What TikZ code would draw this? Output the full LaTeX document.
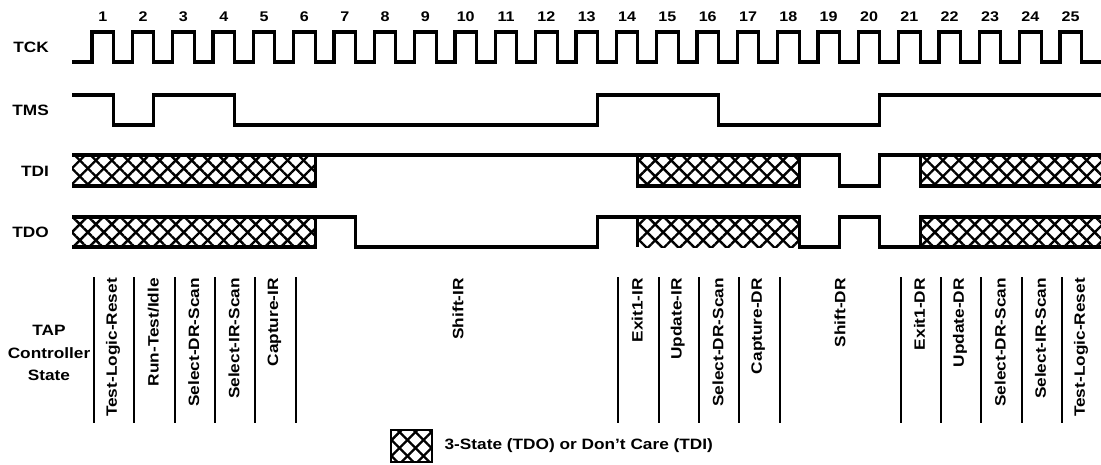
\documentclass[tikz,border=0pt]{standalone}
\usepackage{fontspec}
\setmainfont{Liberation Sans}[FakeStretch=1.15]
\usetikzlibrary{positioning,patterns.meta}

% clock edges (sheet is measured in pt, origin top left)
\newcommand{\riseat}[1]{92+40.33*(#1-1)}
\newcommand{\fallat}[1]{113.5+40.33*(#1-1)}

\tikzset{
  sig/.style={line width=3.2pt},
  hatch/.style={pattern={Lines[angle=45,distance=11.3pt,line width=2.4pt]},
    postaction={pattern={Lines[angle=-45,distance=11.3pt,line width=2.4pt]}}},
  lbl/.style={font=\fontsize{15}{18}\selectfont\bfseries, inner sep=0pt},
  num/.style={font=\fontsize{14}{16}\selectfont\bfseries, inner sep=0pt},
  state/.style={lbl, rotate=90, anchor=east},
  sep/.style={line width=1.8pt},
}

\begin{document}
\begin{tikzpicture}[x=1pt, y=-1pt]
    \useasboundingbox (0,0) rectangle (1101,464);

    % Draw signal names
    \node[lbl, anchor=east] (tck) at (49,47) {TCK};
    \node[lbl, anchor=east] (tms) at (49,110) {TMS};
    \node[lbl, anchor=east] (tdi) at (49,171) {TDI};
    \node[lbl, anchor=east] (tdo) at (49,232) {TDO};

    % Draw cycle numbers and TCK
    \foreach \n in {1,...,25}
        \node[num] (c\n) at ({102.75+40.33*(\n-1)},17) {\n};
    \draw[sig] (72,62) \foreach \n in {1,...,25} {
        -- ({\riseat{\n}},62) -- ({\riseat{\n}},32) -- ({\fallat{\n}},32) -- ({\fallat{\n}},62)
    } -- (1101,62);

    % Draw TMS
    \draw[sig] (72,95) -- ({\fallat{1}},95) -- ({\fallat{1}},125) -- ({\fallat{2}},125)
        -- ({\fallat{2}},95) -- ({\fallat{4}},95) -- ({\fallat{4}},125) -- ({\fallat{13}},125)
        -- ({\fallat{13}},95) -- ({\fallat{16}},95) -- ({\fallat{16}},125) -- ({\fallat{20}},125)
        -- ({\fallat{20}},95) -- (1101,95);

    % Draw TDI
    \fill[hatch] (72,155) rectangle ({\fallat{6}},186);
    \fill[hatch] ({\fallat{14}},155) rectangle ({\fallat{18}},186);
    \fill[hatch] ({\fallat{21}},155) rectangle (1101,186);
    \draw[sig] (72,155) -- ({\fallat{19}},155) -- ({\fallat{19}},186) -- ({\fallat{20}},186)
        -- ({\fallat{20}},155) -- (1101,155);
    \draw[sig] (72,186) -- ({\fallat{6}},186) -- ({\fallat{6}},155);
    \draw[sig] ({\fallat{14}},155) -- ({\fallat{14}},186) -- ({\fallat{18}},186) -- ({\fallat{18}},155);
    \draw[sig] (1101,186) -- ({\fallat{21}},186) -- ({\fallat{21}},155);

    % Draw TDO
    \fill[hatch] (72,217) rectangle ({\fallat{6}},247);
    \fill[hatch] ({\fallat{14}},217) rectangle ({\fallat{18}},247);
    \fill[hatch] ({\fallat{21}},217) rectangle (1101,247);
    \draw[sig] (72,217) -- ({\fallat{7}},217) -- ({\fallat{7}},247) -- ({\fallat{13}},247)
        -- ({\fallat{13}},217) -- ({\fallat{18}},217) -- ({\fallat{18}},247) -- ({\fallat{19}},247)
        -- ({\fallat{19}},217) -- ({\fallat{20}},217) -- ({\fallat{20}},247) -- (1101,247);
    \draw[sig] (72,247) -- ({\fallat{6}},247) -- ({\fallat{6}},217);
    \draw[sig] ({\fallat{14}},217) -- ({\fallat{14}},247);
    \draw[sig] ({\fallat{21}},247) -- ({\fallat{21}},217) -- (1101,217);

    % Draw TAP controller states
    \node[lbl, align=center, font=\fontsize{15}{22.5}\selectfont\bfseries] (tap) at (49,353)
        {TAP\\Controller\\State};
    \foreach \n in {1,2,3,4,5,6,14,15,16,17,18,21,22,23,24,25}
        \draw[sep] ({\riseat{\n}+2},277) -- ({\riseat{\n}+2},423);
    \foreach \n/\txt in {1/Test-Logic-Reset, 2/{Run-Test/Idle}, 3/Select-DR-Scan,
        4/Select-IR-Scan, 5/Capture-IR, 14/Exit1-IR, 15/Update-IR, 16/Select-DR-Scan,
        17/Capture-DR, 21/Exit1-DR, 22/Update-DR, 23/Select-DR-Scan,
        24/Select-IR-Scan, 25/Test-Logic-Reset}
        \node[state] (st\n) at ({\riseat{\n}+21},278) {\txt};
    \node[state] (shir) at (458,278) {Shift-IR};
    \node[state] (shdr) at (840,278) {Shift-DR};

    % Draw key
    \node[draw, line width=2.8pt, hatch, minimum width=41pt, minimum height=32pt,
        inner sep=0pt] (key) at (411.5,446) {};
    \node[lbl, right=11pt of key] (keytext) {3-State (TDO) or Don’t Care (TDI)};
\end{tikzpicture}
\end{document}
